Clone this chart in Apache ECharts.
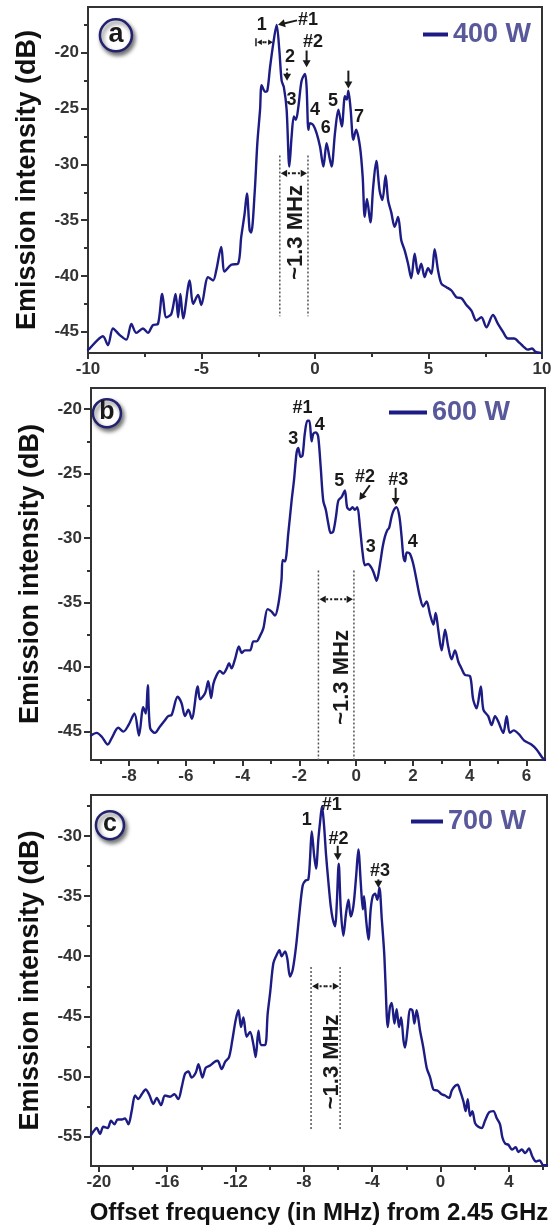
<!DOCTYPE html>
<html><head><meta charset="utf-8">
<script src="https://cdn.jsdelivr.net/npm/echarts@6/dist/echarts.min.js"></script>
<style>html,body{margin:0;padding:0;background:#fff}#c{width:559px;height:1229px}</style>
</head><body><div id="c"></div>
<script>
// ---------- data (offset frequency in MHz, emission intensity in dB) ----------
const freqA = [-10.0,-9.93,-9.56,-9.34,-9.12,-8.90,-8.60,-8.31,-8.09,-7.87,-7.58,-7.36,-7.14,-6.92,-6.73,-6.55,-6.33,-6.14,-6.03,-5.93,-5.81,-5.52,-5.37,-5.15,-5.01,-4.71,-4.49,-4.35,-4.13,-3.98,-3.69,-3.39,-3.25,-3.10,-3.00,-2.88,-2.81,-2.66,-2.54,-2.42,-2.35,-2.20,-2.10,-1.98,-1.84,-1.69,-1.57,-1.47,-1.37,-1.25,-1.13,-1.03,-0.93,-0.84,-0.73,-0.59,-0.44,-0.37,-0.29,-0.22,-0.07,0.07,0.22,0.37,0.51,0.63,0.73,0.88,1.03,1.18,1.32,1.40,1.47,1.57,1.69,1.81,1.98,2.10,2.19,2.29,2.44,2.56,2.70,2.85,2.97,3.11,3.22,3.36,3.51,3.66,3.80,3.95,4.10,4.24,4.39,4.54,4.68,4.83,4.98,5.13,5.27,5.42,5.57,5.79,6.01,6.23,6.45,6.67,6.89,7.11,7.33,7.55,7.84,8.06,8.28,8.50,8.77,9.01,9.17,9.37,9.56,9.72,9.95];
const intA  = [-46.6,-46.5,-45.7,-45.4,-46.2,-44.7,-45.3,-45.7,-44.3,-45.1,-44.7,-45.1,-44.4,-44.3,-41.6,-43.7,-43.4,-41.6,-43.7,-41.6,-43.8,-40.4,-42.5,-41.7,-42.6,-40.1,-40.4,-39.5,-37.4,-39.6,-39.0,-38.9,-36.5,-34.4,-32.6,-35.9,-36.1,-32.6,-28.1,-25.1,-22.9,-23.5,-23.4,-21.3,-19.2,-17.5,-19.8,-22.5,-23.1,-25.1,-30.2,-27.5,-25.7,-26.0,-24.8,-22.5,-21.9,-23.1,-26.9,-26.3,-26.5,-27.2,-28.4,-30.2,-28.1,-29.3,-30.2,-27.2,-25.1,-26.6,-23.9,-24.2,-23.4,-25.1,-27.8,-26.9,-28.4,-31.1,-34.7,-33.1,-35.2,-32.1,-29.7,-32.4,-33.2,-31.0,-33.2,-34.3,-35.6,-34.7,-36.8,-37.7,-38.9,-40.2,-38.0,-39.8,-38.9,-40.1,-39.3,-39.8,-37.6,-39.5,-40.7,-41.0,-41.3,-41.9,-42.0,-42.6,-43.1,-44.0,-43.7,-44.6,-43.5,-44.3,-45.0,-45.6,-45.6,-46.0,-46.3,-46.6,-46.5,-46.8,-46.9];

const freqB = [-9.34,-9.14,-8.96,-8.75,-8.61,-8.38,-8.20,-8.02,-7.81,-7.65,-7.50,-7.41,-7.34,-7.26,-7.09,-6.91,-6.73,-6.62,-6.50,-6.29,-6.15,-6.03,-5.91,-5.79,-5.58,-5.50,-5.32,-5.21,-5.11,-5.03,-4.91,-4.80,-4.68,-4.56,-4.48,-4.39,-4.27,-4.13,-4.03,-3.92,-3.74,-3.62,-3.51,-3.39,-3.27,-3.12,-2.98,-2.86,-2.74,-2.63,-2.59,-2.51,-2.39,-2.27,-2.19,-2.10,-2.04,-1.96,-1.89,-1.81,-1.72,-1.65,-1.57,-1.51,-1.42,-1.34,-1.25,-1.16,-1.07,-0.98,-0.90,-0.81,-0.71,-0.63,-0.51,-0.40,-0.32,-0.22,-0.13,-0.05,0.04,0.13,0.23,0.31,0.42,0.54,0.62,0.72,0.84,0.93,1.01,1.09,1.16,1.25,1.33,1.42,1.52,1.60,1.66,1.72,1.78,1.89,2.01,2.13,2.24,2.36,2.48,2.60,2.72,2.80,2.89,3.01,3.13,3.24,3.36,3.48,3.60,3.71,3.83,4.01,4.12,4.24,4.39,4.48,4.65,4.77,4.89,5.00,5.18,5.30,5.41,5.55,5.73,5.92,6.17,6.36,6.55,6.65];
const intB  = [-45.3,-45.1,-45.4,-46.0,-45.5,-44.7,-45.0,-44.5,-43.6,-45.3,-43.1,-43.6,-41.4,-44.7,-45.1,-44.6,-44.1,-43.8,-43.7,-42.3,-42.8,-43.8,-43.3,-44.0,-41.5,-42.5,-42.0,-41.1,-42.4,-41.3,-40.6,-40.3,-40.5,-40.1,-39.7,-40.1,-39.4,-38.4,-38.9,-38.7,-38.7,-38.0,-38.0,-37.6,-37.0,-35.5,-35.7,-36.0,-35.1,-33.2,-31.7,-31.8,-29.6,-27.0,-25.5,-23.4,-23.0,-23.7,-23.6,-21.9,-20.9,-20.9,-22.5,-21.9,-21.8,-22.1,-24.5,-27.1,-27.8,-28.9,-29.6,-29.5,-28.3,-27.1,-26.8,-26.3,-27.6,-27.8,-27.6,-27.8,-27.6,-29.1,-31.2,-32.1,-32.0,-32.3,-32.7,-33.3,-32.0,-30.7,-29.9,-29.4,-29.2,-28.3,-27.8,-27.6,-28.3,-29.9,-31.4,-31.8,-31.1,-31.2,-32.0,-33.3,-34.5,-35.3,-34.9,-35.9,-36.7,-35.8,-37.1,-38.7,-37.1,-38.4,-39.4,-38.7,-39.6,-40.1,-40.6,-40.7,-42.5,-43.2,-41.5,-43.3,-43.8,-44.5,-43.8,-44.2,-45.1,-43.8,-45.1,-44.9,-45.2,-45.7,-46.0,-46.4,-47.0,-47.2];

const freqC = [-20.46,-20.32,-20.13,-19.93,-19.74,-19.48,-19.29,-19.09,-18.90,-18.66,-18.47,-18.27,-18.08,-17.88,-17.69,-17.49,-17.26,-17.06,-16.81,-16.61,-16.36,-16.13,-15.83,-15.58,-15.35,-15.15,-14.96,-14.76,-14.57,-14.33,-14.17,-13.94,-13.75,-13.49,-13.24,-13.05,-12.81,-12.61,-12.38,-12.19,-11.99,-11.83,-11.68,-11.54,-11.35,-11.15,-10.96,-10.82,-10.66,-10.51,-10.27,-10.12,-9.98,-9.79,-9.63,-9.43,-9.30,-9.10,-8.97,-8.81,-8.65,-8.46,-8.26,-8.07,-7.91,-7.74,-7.64,-7.54,-7.40,-7.29,-7.15,-7.05,-6.94,-6.82,-6.70,-6.56,-6.43,-6.31,-6.17,-6.08,-5.96,-5.84,-5.69,-5.53,-5.39,-5.26,-5.10,-4.94,-4.81,-4.67,-4.55,-4.48,-4.36,-4.22,-4.09,-3.97,-3.83,-3.70,-3.58,-3.44,-3.30,-3.23,-3.09,-2.96,-2.86,-2.70,-2.57,-2.43,-2.31,-2.17,-2.08,-1.92,-1.79,-1.65,-1.53,-1.40,-1.20,-1.01,-0.81,-0.61,-0.42,-0.17,0.07,0.26,0.50,0.65,0.85,1.00,1.14,1.34,1.47,1.59,1.73,1.86,2.02,2.21,2.41,2.60,2.84,3.09,3.29,3.48,3.62,3.78,3.97,4.18,4.40,4.55,4.75,4.96,5.17,5.38,5.59,5.80,6.01,6.23];
const intC  = [-54.9,-54.6,-54.3,-54.8,-54.2,-54.3,-53.7,-54.0,-53.6,-53.6,-53.5,-54.0,-52.9,-51.6,-51.9,-51.5,-51.1,-51.5,-52.3,-51.8,-52.4,-51.6,-51.7,-51.5,-51.9,-50.9,-49.8,-49.6,-50.1,-49.7,-49.0,-50.1,-49.3,-49.1,-48.8,-48.7,-49.4,-48.8,-48.4,-47.0,-45.3,-44.5,-45.9,-45.1,-46.7,-46.3,-47.3,-48.4,-46.2,-47.4,-47.4,-44.8,-43.1,-40.6,-40.0,-39.5,-40.0,-39.6,-40.2,-41.7,-41.1,-39.2,-36.4,-34.1,-33.7,-33.6,-31.9,-29.6,-31.6,-32.7,-30.2,-28.8,-27.5,-29.1,-31.6,-33.9,-35.8,-36.9,-37.5,-35.8,-32.3,-36.1,-38.3,-36.4,-35.3,-36.7,-35.8,-33.3,-31.1,-33.9,-36.1,-35.0,-36.9,-38.6,-36.1,-35.0,-34.8,-35.3,-34.3,-36.9,-39.7,-42.0,-45.9,-44.2,-43.9,-45.6,-44.4,-45.9,-45.1,-47.0,-47.6,-45.9,-44.4,-44.5,-45.6,-44.5,-46.2,-47.6,-49.3,-50.1,-51.1,-51.2,-51.5,-51.6,-51.8,-51.2,-50.8,-50.7,-51.2,-52.1,-52.9,-51.9,-53.3,-52.9,-53.9,-54.2,-54.3,-53.7,-53.0,-52.9,-53.5,-54.0,-55.1,-55.6,-55.7,-56.1,-55.9,-56.3,-56.1,-56.4,-56.0,-56.7,-57.1,-57.0,-57.4,-57.4];

const seriesNames = ['400 W', '600 W', '700 W'];
const panelLetters = ['a', 'b', 'c'];

// tick values
const xMajA = [-10,-5,0,5,10], xMinA = [-7.5,-2.5,2.5,7.5];
const yMajA = [-45,-40,-35,-30,-25,-20], yMinA = [-42.5,-37.5,-32.5,-27.5,-22.5,-17.5];
const xMajB = [-8,-6,-4,-2,0,2,4,6], xMinB = [-9,-7,-5,-3,-1,1,3,5];
const yMajB = [-45,-40,-35,-30,-25,-20], yMinB = [-47.5,-42.5,-37.5,-32.5,-27.5,-22.5];
const xMajC = [-20,-16,-12,-8,-4,0,4], xMinC = [-18,-14,-10,-6,-2,2,6];
const yMajC = [-55,-50,-45,-40,-35,-30], yMinC = [-57.5,-52.5,-47.5,-42.5,-37.5,-32.5,-27.5];

// annotations (data coordinates)
const labelsA = [['1',-2.35,-17.5],['#1',-0.31,-17.1],['#2',-0.09,-19.06],['2',-1.10,-20.4],['3',-1.03,-24.2],['4',0.0,-25.1],['5',0.79,-24.3],['6',0.47,-26.7],['7',1.94,-25.8]];
const arrowsA = [[-0.79,-17.1,-1.63,-17.5,0],[-0.37,-19.8,-0.37,-21.3,0],[1.47,-21.6,1.47,-23.2,0],[-1.23,-21.4,-1.23,-22.5,1]];
const spanA = [-1.55,-0.31,-29.2,-43.6,-30.8,-0.84,-36.1];
const labelsB = [['#1',-1.89,-19.95],['3',-2.22,-22.35],['4',-1.28,-21.24],['5',-0.60,-25.6],['#2',0.31,-25.24],['#3',1.48,-25.5],['3',0.51,-30.67],['4',1.99,-30.28]];
const arrowsB = [[0.48,-25.9,0.11,-27.05,0],[1.39,-26.1,1.39,-27.44,0]];
const spanB = [-1.33,-0.08,-32.5,-47.2,-34.74,-0.51,-40.8];
const labelsC = [['1',-7.83,-28.67],['#1',-6.37,-27.4],['#2',-5.98,-30.2],['#3',-3.54,-32.9]];
const arrowsC = [[-6.02,-30.8,-6.02,-32.0,0],[-3.64,-33.6,-3.64,-34.3,0]];
const spanC = [-7.58,-5.88,-40.9,-54.5,-42.5,-6.37,-48.8];
const letterPos = [[-8.77,-18.44],[-8.78,-20.31],[-19.35,-29.08]];

// ---------- chart ----------
const FONT = '"Liberation Sans", Arial, Helvetica, sans-serif';
const LINE = '#1c1c84';
const AX = '#333';
const chart = echarts.init(document.getElementById('c'), null, {renderer: 'canvas'});

const grids = [
  {left: 88, top: 7, width: 454, height: 346},
  {left: 91, top: 388, width: 454, height: 372},
  {left: 91, top: 795, width: 456, height: 371}
].map(g => Object.assign(g, {show: true, borderColor: AX, borderWidth: 2, backgroundColor: 'transparent', containLabel: false}));

const ranges = [
  {x: [-10, 10], y: [-46.9, -15.9], xMaj: xMajA, xMin: xMinA, yMaj: yMajA, yMin: yMinA},
  {x: [-9.34, 6.65], y: [-47.2, -18.36], xMaj: xMajB, xMin: xMinB, yMaj: yMajB, yMin: yMinB},
  {x: [-20.46, 6.23], y: [-57.47, -26.57], xMaj: xMajC, xMin: xMinC, yMaj: yMajC, yMin: yMinC}
];

const xAxes = [], yAxes = [];
ranges.forEach((r, gi) => {
  xAxes.push({
    type: 'value', gridIndex: gi, position: 'bottom', min: r.x[0], max: r.x[1],
    axisLine: {show: true, onZero: false, lineStyle: {color: AX, width: 2}},
    axisTick: {show: true, inside: false, length: 6, lineStyle: {color: AX, width: 2}, customValues: r.xMaj},
    axisLabel: {show: true, margin: 8, color: '#333', fontSize: 17, fontWeight: 'bold', fontFamily: FONT, customValues: r.xMaj, showMinLabel: true, showMaxLabel: true, hideOverlap: false},
    splitLine: {show: false},
    name: gi === 2 ? 'Offset frequency (in MHz) from 2.45 GHz' : '',
    nameLocation: 'middle', nameGap: 35,
    nameTextStyle: {fontSize: 24, fontWeight: 'bold', color: '#111', fontFamily: FONT}
  });
  xAxes.push({
    type: 'value', gridIndex: gi, position: 'bottom', min: r.x[0], max: r.x[1],
    axisLine: {show: false, onZero: false}, axisLabel: {show: false}, splitLine: {show: false},
    axisTick: {show: true, length: 4, lineStyle: {color: AX, width: 2}, customValues: r.xMin}
  });
  yAxes.push({
    type: 'value', gridIndex: gi, position: 'left', min: r.y[0], max: r.y[1],
    axisLine: {show: true, onZero: false, lineStyle: {color: AX, width: 2}},
    axisTick: {show: true, inside: false, length: 7, lineStyle: {color: AX, width: 2}, customValues: r.yMaj},
    axisLabel: {show: true, margin: 9, color: '#333', fontSize: 17, fontWeight: 'bold', fontFamily: FONT, customValues: r.yMaj, hideOverlap: false},
    splitLine: {show: false},
    name: 'Emission intensity (dB)', nameLocation: 'middle', nameGap: 47, nameRotate: 90,
    nameTextStyle: {fontSize: 27, fontWeight: 'bold', color: '#111', fontFamily: FONT}
  });
  yAxes.push({
    type: 'value', gridIndex: gi, position: 'left', min: r.y[0], max: r.y[1],
    axisLine: {show: false, onZero: false}, axisLabel: {show: false}, splitLine: {show: false},
    axisTick: {show: true, length: 4, lineStyle: {color: AX, width: 2}, customValues: r.yMin}
  });
});

const pairs = (f, v) => f.map((x, i) => [x, v[i]]);
const seriesData = [pairs(freqA, intA), pairs(freqB, intB), pairs(freqC, intC)];

const legendPos = [
  {left: 423, top: 21, itemWidth: 25},
  {left: 389, top: 399, itemWidth: 38},
  {left: 411, top: 808, itemWidth: 32}
];

chart.setOption({
  animation: false,
  backgroundColor: '#fff',
  grid: grids,
  xAxis: xAxes,
  yAxis: yAxes,
  legend: legendPos.map((p, i) => ({
    data: [seriesNames[i]], left: p.left, top: p.top, padding: 0, orient: 'horizontal',
    icon: 'rect', itemWidth: p.itemWidth, itemHeight: 4, itemGap: 5,
    textStyle: {fontSize: 27, fontWeight: 'bold', color: '#58589a', fontFamily: FONT},
    selectedMode: false
  })),
  series: seriesData.map((d, i) => ({
    name: seriesNames[i], type: 'line', xAxisIndex: i * 2, yAxisIndex: i * 2,
    data: d, showSymbol: false, symbol: 'none', smooth: 0.3,
    lineStyle: {color: LINE, width: 2.4, join: 'round', cap: 'round'}, itemStyle: {color: LINE}, z: 3
  }))
});

// ---------- annotations ----------
function P(gi, x, y) { return chart.convertToPixel({xAxisIndex: gi * 2, yAxisIndex: gi * 2}, [x, y]); }
const ANN = '#1a1a1a';
function arrowEls(p1, p2, dotted, size) {
  const s = size || 1;
  const dx = p2[0] - p1[0], dy = p2[1] - p1[1], L = Math.hypot(dx, dy), ux = dx / L, uy = dy / L;
  const hl = 7 * s, hw = 4 * s;
  const bx = p2[0] - ux * hl, by = p2[1] - uy * hl;
  return [
    {type: 'line', z: 100, shape: {x1: p1[0], y1: p1[1], x2: bx + ux, y2: by + uy}, style: {stroke: ANN, lineWidth: 2, lineDash: dotted ? [2, 2] : null}},
    {type: 'polygon', z: 100, shape: {points: [[p2[0], p2[1]], [bx - uy * hw, by + ux * hw], [bx + uy * hw, by - ux * hw]]}, style: {fill: ANN}}
  ];
}
function textEl(t, p, size, rot) {
  return {type: 'text', z: 100, x: p[0], y: p[1], rotation: rot || 0,
    style: {text: t, font: 'bold ' + size + 'px ' + FONT, fill: ANN, textAlign: 'center', textVerticalAlign: 'middle', align: 'center', verticalAlign: 'middle'}};
}
function spanEls(gi, s) {
  const els = [];
  [s[0], s[1]].forEach(x => {
    const a = P(gi, x, s[2]), b = P(gi, x, s[3]);
    els.push({type: 'line', z: 100, shape: {x1: a[0], y1: a[1], x2: b[0], y2: b[1]}, style: {stroke: '#555', lineWidth: 1.5, lineDash: [2, 2]}});
  });
  const l = P(gi, s[0], s[4]), r = P(gi, s[1], s[4]);
  const mid = [(l[0] + r[0]) / 2, l[1]];
  els.push(...arrowEls(mid, [l[0] + 1, l[1]], true, 0.9));
  els.push(...arrowEls(mid, [r[0] - 1, r[1]], true, 0.9));
  els.push(textEl('~1.3 MHz', P(gi, s[5], s[6]), 22, Math.PI / 2));
  return els;
}
const g = [];
[[labelsA, arrowsA, spanA], [labelsB, arrowsB, spanB], [labelsC, arrowsC, spanC]].forEach((set, gi) => {
  set[0].forEach(l => g.push(textEl(l[0], P(gi, l[1], l[2]), 18)));
  set[1].forEach(a => g.push(...arrowEls(P(gi, a[0], a[1]), P(gi, a[2], a[3]), !!a[4])));
  g.push(...spanEls(gi, set[2]));
  const c = P(gi, letterPos[gi][0], letterPos[gi][1]);
  const r = gi === 0 ? 16 : 14;
  g.push({type: 'circle', z: 99, shape: {cx: c[0], cy: c[1], r: r},
    style: {fill: '#fff', stroke: '#22226e', lineWidth: 2.5, shadowBlur: 4, shadowColor: 'rgba(0,0,0,0.55)', shadowOffsetX: 2, shadowOffsetY: 3}});
  g.push(textEl(panelLetters[gi], [c[0], c[1] - 1], gi === 0 ? 27 : 25));
});
// small double arrow next to "1" in panel a
(function () {
  const l = P(0, -2.60, -19.06), r = P(0, -1.85, -19.06);
  const mid = [(l[0] + r[0]) / 2, l[1]];
  g.push({type: 'line', z: 100, shape: {x1: l[0], y1: l[1] - 4, x2: l[0], y2: l[1] + 4}, style: {stroke: ANN, lineWidth: 1.5}});
  g.push(...arrowEls(mid, [l[0] + 1, l[1]], true, 0.7));
  g.push(...arrowEls(mid, r, true, 0.7));
})();
chart.setOption({graphic: {elements: g}});
</script>
</body></html>
